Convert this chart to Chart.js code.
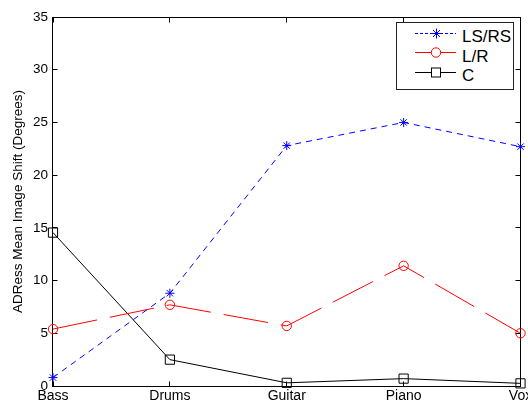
<!DOCTYPE html>
<html><head><meta charset="utf-8">
<script src="https://cdn.jsdelivr.net/npm/chart.js@4/dist/chart.umd.min.js"></script>
<style>
html,body{margin:0;padding:0;background:#fff;overflow:hidden}
#wrap{position:relative;width:528px;height:403px}
#legend{position:absolute;left:0;top:0;pointer-events:none}
#legend text{font-family:'Liberation Sans',Arial,sans-serif;font-size:17px;fill:#000}
</style></head><body>
<div id="wrap">
<canvas id="c" width="528" height="403"></canvas>
<svg id="legend" width="528" height="403" xmlns="http://www.w3.org/2000/svg">
  <rect x="396.5" y="22.5" width="117" height="67" fill="#fff" stroke="#222" stroke-width="1"/>
  <line x1="415" y1="33.5" x2="456" y2="33.5" stroke="#0000ff" stroke-width="1" stroke-dasharray="3,2"/>
  <path d="M431.5 33.5H441.5M436.5 28.5V38.5M433 30L440 37M440 30L433 37" stroke="#0000ff" stroke-width="1"/>
  <text x="462" y="41.5">LS/RS</text>
  <line x1="415" y1="52.5" x2="456" y2="52.5" stroke="#ff0000" stroke-width="1"/>
  <circle cx="436" cy="52.5" r="4.7" fill="#fff" stroke="#ff0000" stroke-width="1"/>
  <text x="462" y="61.5">L/R</text>
  <line x1="415" y1="72.5" x2="456" y2="72.5" stroke="#000" stroke-width="1"/>
  <rect x="431.5" y="68" width="9" height="9" fill="#fff" stroke="#000" stroke-width="1"/>
  <text x="462" y="81">C</text>
</svg>
</div>
<script>
const categories = ['Bass', 'Drums', 'Guitar', 'Piano', 'Vox'];
const lsrsValues = [0.8, 8.8, 22.8, 25.0, 22.7];
const lrValues = [5.4, 7.7, 5.7, 11.4, 5.0];
const cValues = [14.55, 2.5, 0.3, 0.7, 0.25];
const seriesNames = ['LS/RS', 'L/R', 'C'];
const yTitle = 'ADRess Mean Image Shift (Degrees)';

Chart.defaults.font.family = "'Liberation Sans', Arial, sans-serif";
Chart.defaults.color = '#000';

const boxPlugin = {
  id: 'matlabBox',
  beforeDatasetsDraw(chart) {
    const ctx = chart.ctx;
    const a = chart.chartArea;
    const xs = chart.scales.x, ys = chart.scales.y;
    const L = Math.floor(a.left) - 0.5, R = Math.floor(a.right) + 0.5;
    const T = Math.floor(a.top) + 0.5, B = Math.floor(a.bottom) + 0.5;
    ctx.save();
    ctx.strokeStyle = '#000';
    ctx.lineWidth = 1;
    ctx.strokeRect(L, T, R - L, B - T);
    const tl = 5;
    ctx.beginPath();
    ys.ticks.forEach((t, i) => {
      const py = Math.floor(ys.getPixelForTick(i)) + 0.5;
      ctx.moveTo(L, py); ctx.lineTo(L + tl, py);
      ctx.moveTo(R, py); ctx.lineTo(R - tl, py);
    });
    xs.ticks.forEach((t, i) => {
      const px = Math.floor(xs.getPixelForTick(i)) + 0.5;
      ctx.moveTo(px, B); ctx.lineTo(px, B - tl);
      ctx.moveTo(px, T); ctx.lineTo(px, T + tl);
    });
    ctx.stroke();
    ctx.restore();
  }
};

new Chart(document.getElementById('c'), {
  type: 'line',
  data: {
    labels: categories,
    datasets: [
      {
        label: seriesNames[0], data: lsrsValues,
        borderColor: '#0000ff', backgroundColor: 'rgba(0,0,0,0)',
        borderWidth: 1, borderDash: [6, 5], tension: 0,
        pointStyle: 'star', pointRadius: 4.5, pointBorderColor: '#0000ff',
        pointBorderWidth: 1, clip: false
      },
      {
        label: seriesNames[1], data: lrValues,
        borderColor: '#ff0000', backgroundColor: 'rgba(0,0,0,0)',
        borderWidth: 1, borderDash: [45, 13], tension: 0,
        pointStyle: 'circle', pointRadius: 4.7, pointBorderColor: '#ff0000',
        pointBackgroundColor: 'rgba(0,0,0,0)', pointBorderWidth: 1, clip: false
      },
      {
        label: seriesNames[2], data: cValues,
        borderColor: '#000', backgroundColor: 'rgba(0,0,0,0)',
        borderWidth: 1, tension: 0,
        pointStyle: 'rect', pointRadius: 6.5, pointBorderColor: '#000',
        pointBackgroundColor: 'rgba(0,0,0,0)', pointBorderWidth: 1, clip: false
      }
    ]
  },
  options: {
    responsive: false,
    animation: false,
    devicePixelRatio: 1,
    layout: { padding: { top: 17, right: 6, left: 0, bottom: 0 } },
    plugins: { legend: { display: false }, tooltip: { enabled: false } },
    scales: {
      x: {
        type: 'category', offset: false,
        grid: { display: false, drawTicks: false },
        border: { display: false },
        ticks: { autoSkip: false, maxRotation: 0, padding: 2, color: '#000', font: { size: 14 } },
        afterFit(s) { s.height = 17; s.paddingLeft = 0; s.paddingRight = 0; }
      },
      y: {
        min: 0, max: 35,
        grid: { display: false, drawTicks: false },
        border: { display: false },
        ticks: { stepSize: 5, padding: 5, color: '#000', font: { size: 13.5 } },
        title: { display: true, text: yTitle, color: '#000', font: { size: 13.5 }, padding: { top: 10, bottom: 0 } },
        afterFit(s) { s.width = 53; }
      }
    }
  },
  plugins: [boxPlugin]
});
</script>
</body></html>
